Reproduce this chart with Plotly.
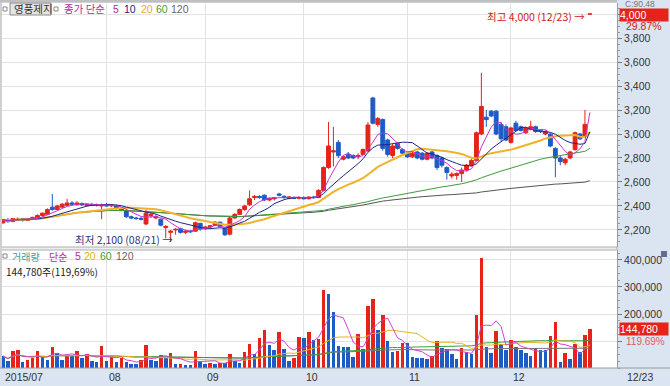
import pandas as pd
import plotly.graph_objects as go

W, H = 670, 386

# ---------------- data ----------------
holidays = ["2015-08-14", "2015-09-28", "2015-09-29", "2015-10-09"]
dates = [d for d in pd.bdate_range("2015-07-03", "2015-12-23")
         if d.strftime("%Y-%m-%d") not in holidays]

opens = [2260, 2280, 2270, 2280, 2295, 2280, 2290, 2300, 2320, 2330,
         2390, 2370, 2390, 2405, 2425, 2410, 2420, 2405, 2410, 2405,
         2400, 2410, 2400, 2405, 2380, 2360, 2310, 2300, 2295, 2250,
         2320, 2300, 2290, 2220, 2180, 2200, 2210, 2180, 2190, 2190,
         2255, 2210, 2225, 2240, 2265, 2215, 2165, 2300, 2330, 2370,
         2410, 2470, 2480, 2490, 2450, 2460, 2500, 2480, 2465, 2470,
         2465, 2470, 2460, 2475, 2470, 2530, 2720, 2850, 2930, 2790,
         2830, 2820, 2810, 2830, 2860, 3300, 3080, 3120, 2950, 2820,
         2920, 2870, 2840, 2810, 2850, 2840, 2790, 2850, 2820, 2800,
         2720, 2650, 2655, 2670, 2700, 2740, 2780, 3000, 3140, 3190,
         3190, 3080, 3060, 2930, 3090, 3060, 3010, 3040, 3060, 3030,
         3000, 3000, 2880, 2800, 2760, 2800, 2870, 3000, 2980, 4000]
highs = [2290, 2300, 2300, 2305, 2300, 2300, 2310, 2330, 2345, 2380,
         2500, 2410, 2425, 2460, 2440, 2440, 2430, 2420, 2425, 2420,
         2420, 2425, 2415, 2410, 2390, 2365, 2320, 2310, 2310, 2370,
         2340, 2330, 2295, 2240, 2200, 2215, 2220, 2200, 2200, 2270,
         2260, 2235, 2240, 2275, 2270, 2220, 2310, 2340, 2380, 2410,
         2530, 2490, 2490, 2495, 2470, 2475, 2510, 2490, 2480, 2480,
         2480, 2480, 2480, 2485, 2540, 2730, 3100, 3060, 2950, 2820,
         2850, 2830, 2840, 2880, 3100, 3310, 3140, 3130, 2960, 2920,
         2930, 2880, 2850, 2850, 2860, 2850, 2850, 2860, 2830, 2810,
         2730, 2680, 2680, 2720, 2750, 2790, 3020, 3510, 3200, 3200,
         3200, 3100, 3080, 3060, 3110, 3070, 3060, 3110, 3070, 3040,
         3030, 3010, 2890, 2820, 2800, 2860, 3020, 3010, 3200, 4000]
lows = [2250, 2260, 2265, 2275, 2270, 2275, 2285, 2295, 2310, 2325,
        2360, 2365, 2385, 2400, 2405, 2405, 2400, 2395, 2400, 2395,
        2290, 2395, 2390, 2370, 2355, 2300, 2290, 2285, 2280, 2240,
        2300, 2290, 2230, 2130, 2100, 2160, 2170, 2165, 2175, 2185,
        2195, 2200, 2210, 2235, 2225, 2150, 2155, 2295, 2325, 2360,
        2400, 2450, 2460, 2440, 2440, 2445, 2480, 2460, 2455, 2460,
        2455, 2455, 2455, 2460, 2465, 2520, 2710, 2730, 2800, 2780,
        2790, 2790, 2790, 2825, 2850, 3080, 3060, 2860, 2810, 2800,
        2870, 2830, 2800, 2800, 2790, 2780, 2780, 2790, 2700, 2720,
        2620, 2630, 2620, 2600, 2690, 2730, 2770, 2990, 3060, 3140,
        2990, 2940, 2940, 2920, 3020, 3020, 3000, 3030, 3010, 3010,
        2990, 2890, 2640, 2740, 2740, 2790, 2860, 2950, 2970, 4000]
closes = [2285, 2270, 2295, 2290, 2280, 2295, 2305, 2320, 2340, 2370,
          2370, 2400, 2415, 2425, 2415, 2425, 2410, 2415, 2405, 2410,
          2410, 2400, 2405, 2380, 2365, 2310, 2300, 2295, 2290, 2340,
          2330, 2310, 2240, 2230, 2190, 2205, 2180, 2190, 2185, 2260,
          2210, 2225, 2235, 2265, 2230, 2160, 2300, 2330, 2370, 2400,
          2460, 2480, 2470, 2450, 2465, 2470, 2490, 2470, 2475, 2465,
          2470, 2460, 2475, 2470, 2530, 2720, 2900, 2860, 2820, 2810,
          2800, 2800, 2820, 2870, 3075, 3090, 3130, 2880, 2830, 2900,
          2880, 2840, 2810, 2840, 2800, 2790, 2840, 2800, 2720, 2740,
          2680, 2665, 2670, 2700, 2740, 2780, 3010, 3230, 3120, 3150,
          3000, 2960, 2950, 3050, 3030, 3030, 3050, 3060, 3020, 3025,
          3020, 2900, 2800, 2770, 2790, 2850, 3010, 2960, 3080, 4000]
volumes = [44000, 26000, 63000, 65000, 22000, 30000, 37000, 63000, 44000, 30000,
           78000, 56000, 30000, 50000, 46000, 63000, 37000, 52000, 26000, 22000,
           81000, 26000, 41000, 22000, 37000, 22000, 15000, 14000, 30000, 85000,
           30000, 26000, 48000, 37000, 56000, 15000, 16000, 12000, 10000, 63000,
           22000, 15000, 18000, 16000, 20000, 18000, 52000, 25000, 20000, 60000,
           89000, 52000, 111000, 141000, 85000, 67000, 133000, 70000, 26000, 37000,
           115000, 111000, 133000, 104000, 107000, 289000, 274000, 207000, 81000, 78000,
           76000, 41000, 126000, 70000, 230000, 255000, 141000, 196000, 100000, 59000,
           63000, 93000, 92000, 40000, 38000, 37000, 35000, 44000, 100000, 74000,
           72000, 52000, 33000, 74000, 59000, 52000, 196000, 407000, 78000, 55000,
           137000, 89000, 67000, 104000, 78000, 67000, 55000, 44000, 74000, 68000,
           66000, 119000, 170000, 22000, 55000, 33000, 89000, 59000, 121000, 144780]

month_labels = ["2015/07", "08", "09", "10", "11", "12"]
price_ticks = [2200, 2400, 2600, 2800, 3000, 3200, 3400, 3600, 3800, 4000]
price_ticktext = ["2,200", "2,400", "2,600", "2,800", "3,000", "3,200", "3,400", "3,600", "3,800", ""]
vol_ticks = [100000, 200000, 300000, 400000]
vol_ticktext = ["", "200,000", "300,000", "400,000"]

# ---------------- derived ----------------
RED = "#e5231b"
BLUE = "#1d5bc6"
idx = list(range(len(dates)))
cs = pd.Series(closes, dtype=float)
vs = pd.Series(volumes, dtype=float)
ma = {n: cs.rolling(n, min_periods=1).mean() for n in (5, 10, 20, 60, 120)}
vma = {n: vs.rolling(n, min_periods=1).mean() for n in (5, 20, 60, 120)}
vol_colors = [BLUE] + [RED if volumes[i] > volumes[i - 1] else BLUE for i in range(1, len(volumes))]
month_starts = [i for i in idx if i == 0 or dates[i].month != dates[i - 1].month]

NUM = "Liberation Sans, Arial, sans-serif"
KR = "Noto Sans CJK KR, sans-serif"

def px(x):
    return x / W

def py(y):
    return 1 - y / H

fig = go.Figure()

fig.add_trace(go.Candlestick(
    x=idx, open=opens, high=highs, low=lows, close=closes,
    increasing=dict(line=dict(color=RED, width=1), fillcolor=RED),
    decreasing=dict(line=dict(color=BLUE, width=1), fillcolor=BLUE),
    whiskerwidth=0, hoverinfo="skip", showlegend=False, xaxis="x", yaxis="y"))

ma_style = {5: ("#cc33cc", 1), 10: ("#1b2580", 1), 20: ("#f0b22a", 2),
            60: ("#3f9a3f", 1), 120: ("#555555", 1)}
for n in (120, 60, 20, 10, 5):
    c, w = ma_style[n]
    fig.add_trace(go.Scatter(x=idx, y=ma[n], mode="lines", line=dict(color=c, width=w),
                             hoverinfo="skip", showlegend=False, xaxis="x", yaxis="y"))

fig.add_trace(go.Bar(x=idx, y=volumes, marker=dict(color=vol_colors, line=dict(width=0)),
                     width=0.72, hoverinfo="skip", showlegend=False, xaxis="x2", yaxis="y2"))
vma_style = {5: ("#cc44cc", 1), 20: ("#e6b422", 1), 60: ("#3f9a3f", 1), 120: ("#777777", 1)}
for n in (120, 60, 20, 5):
    c, w = vma_style[n]
    fig.add_trace(go.Scatter(x=idx, y=vma[n], mode="lines", line=dict(color=c, width=w),
                             hoverinfo="skip", showlegend=False, xaxis="x2", yaxis="y2"))

xr = [-0.2, 124.5]
xdom = [px(2), px(617)]
common_x = dict(range=xr, domain=xdom, showticklabels=False, tickvals=month_starts,
                showgrid=True, gridcolor="#e2e2e2", gridwidth=1, zeroline=False,
                ticks="", fixedrange=True)
fig.update_layout(
    width=W, height=H, margin=dict(l=0, r=0, t=0, b=0),
    paper_bgcolor="#dbe5f1", plot_bgcolor="white",
    boxgap=0.22, boxgroupgap=0, bargap=0, hovermode=False,
    xaxis=dict(anchor="y", rangeslider=dict(visible=False), **common_x),
    xaxis2=dict(anchor="y2", matches="x", **common_x),
    yaxis=dict(domain=[py(247), py(3)], range=[2058, 4092], side="right", anchor="x",
               tickvals=price_ticks, ticktext=price_ticktext, fixedrange=True,
               showgrid=True, gridcolor="#e2e2e2", zeroline=False,
               ticks="outside", ticklen=4, tickcolor="#777", showline=True, linecolor="#9a9a9a",
               minor=dict(ticks="outside", ticklen=2, tickcolor="#999", dtick=50, showgrid=False),
               tickfont=dict(family=NUM, size=10.5, color="#333")),
    yaxis2=dict(domain=[py(368), py(250)], range=[0, 437000], side="right", anchor="x2",
                tickvals=vol_ticks, ticktext=vol_ticktext, fixedrange=True,
                showgrid=True, gridcolor="#e2e2e2", zeroline=False,
                ticks="outside", ticklen=4, tickcolor="#777", showline=True, linecolor="#9a9a9a",
                minor=dict(ticks="outside", ticklen=2, tickcolor="#999", dtick=25000, showgrid=False),
                tickfont=dict(family=NUM, size=10.5, color="#333")),
)

shapes = []
shapes.append(dict(type="rect", xref="paper", yref="paper", x0=0, x1=px(617), y0=py(250), y1=py(247),
                   fillcolor="#eeeeee", line=dict(color="#b0b0b0", width=1), layer="above"))
shapes.append(dict(type="rect", xref="paper", yref="paper", x0=0, x1=px(2), y0=py(368), y1=1,
                   fillcolor="#cfcfcf", line=dict(width=0), layer="above"))
shapes.append(dict(type="rect", xref="paper", yref="paper", x0=0, x1=px(617), y0=py(2.5), y1=1,
                   fillcolor="#bfbfbf", line=dict(width=0), layer="above"))
shapes.append(dict(type="line", xref="paper", yref="paper", x0=0, x1=1, y0=py(368), y1=py(368),
                   line=dict(color="#9a9a9a", width=1)))
for (x0, y0) in [(3, 7), (54, 7), (3, 254)]:
    shapes.append(dict(type="rect", xref="paper", yref="paper", x0=px(x0), x1=px(x0 + 4),
                       y0=py(y0 + 4), y1=py(y0), fillcolor="white", line=dict(color="#888", width=1)))
shapes.append(dict(type="rect", xref="paper", yref="paper", x0=px(10), x1=px(51), y0=py(15), y1=py(3),
                   fillcolor="#e4e4e4", line=dict(color="#8a8a8a", width=1)))
shapes.append(dict(type="rect", xref="paper", yref="paper", x0=px(661), x1=px(667), y0=py(257), y1=py(251),
                   fillcolor="#6a6a8a", line=dict(width=0)))
fig.update_layout(shapes=shapes)

ann = []

def text(x, y, s, color, size=11, family=KR, **kw):
    ann.append(dict(x=px(x), y=py(y), xref="paper", yref="paper", text=s, showarrow=False,
                    xanchor=kw.pop("xanchor", "left"), yanchor="middle",
                    font=dict(family=family, size=size, color=color), **kw))

# price header
text(12, 9, "영풍제지", "#333333", 10.5)
text(62, 9, "종가 단순", "#b8279e", 10.5)
text(111, 9, "5", "#b8279e", 10.5, NUM)
text(122, 9, "10", "#1b2580", 10.5, NUM)
text(139, 9, "20", "#e0b020", 10.5, NUM)
text(154, 9, "60", "#3f9a3f", 10.5, NUM)
text(169, 9, "120", "#666666", 10.5, NUM)

# volume header
text(10, 256, "거래량", "#3aa0a0", 10)
text(47, 256, "단순", "#b8279e", 10)
text(73, 256, "5", "#b8279e", 10.5, NUM)
text(82, 256, "20", "#e0b020", 10.5, NUM)
text(98, 256, "60", "#3f9a3f", 10.5, NUM)
text(114, 256, "120", "#666666", 10.5, NUM)
text(4, 271, "144,780주(119,69%)", "#222222", 10)

# high / low markers
text(587, 16, "최고 4,000 (12/23) →", "#d42020", 10.5, xanchor="right")
text(73, 239, "최저 2,100 (08/21) →", "#2a3585", 10.5)

# right panel labels
text(623, 4, "C:90.48", "#777777", 8.5, NUM)
text(619, 15, "4,000", "white", 10.5, NUM, bgcolor="#e5231b", width=48, align="left", borderpad=0)
text(624, 25.5, "29.87%", "#d42020", 10.5, NUM)
text(619, 329, "144,780", "white", 10.5, NUM, bgcolor="#e5231b", width=48, align="left", borderpad=0)
text(624, 341, "119.69%", "#e05a5a", 10, NUM)
text(625, 377, "12/23", "#333333", 10.5, NUM)

for lab, i in zip(month_labels, month_starts):
    ann.append(dict(x=i, y=py(377), xref="x", yref="paper", text=lab, showarrow=False,
                    xanchor="left", yanchor="middle", xshift=0,
                    font=dict(family=NUM, size=10.5, color="#333333")))

fig.update_layout(annotations=ann)
fig.write_html("out.html", config={"displayModeBar": False, "staticPlot": True},
               post_script="document.body.style.margin='0';document.body.style.overflow='hidden';")
